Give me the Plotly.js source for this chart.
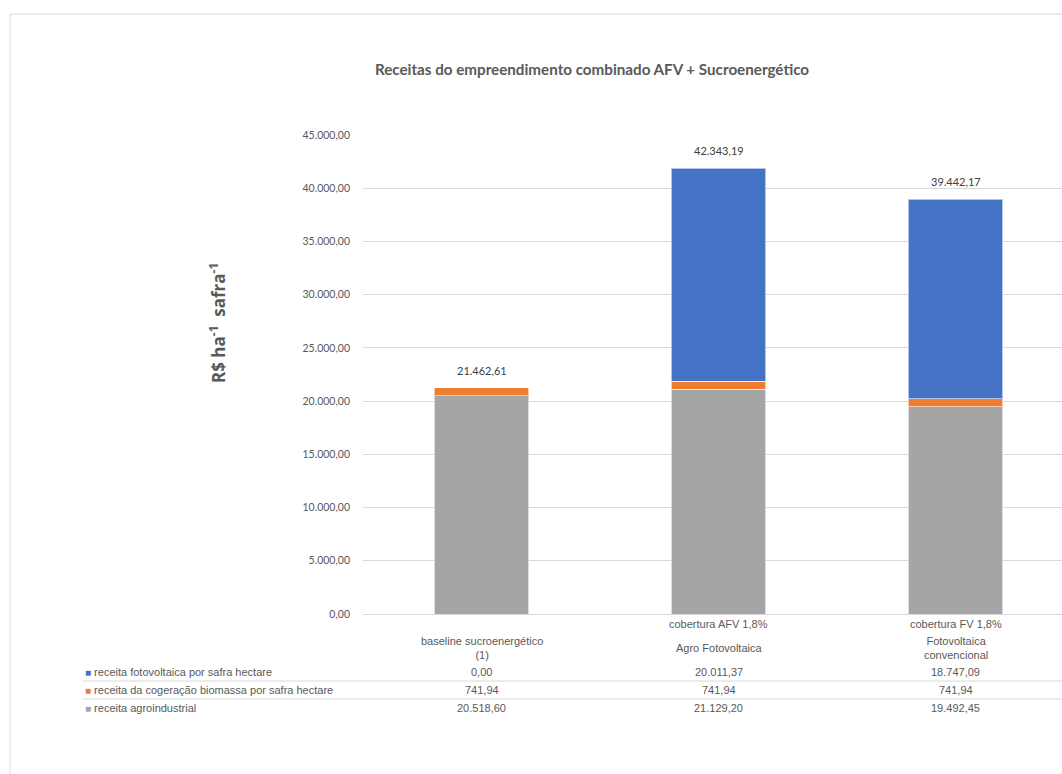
<!DOCTYPE html>
<html>
<head>
<meta charset="utf-8">
<script src="https://cdn.plot.ly/plotly-3.0.1.min.js"></script>
<style>
html,body{margin:0;padding:0;background:#fff;overflow:hidden;}
#chart{width:1080px;height:774px;}
</style>
</head>
<body>
<div id="chart"></div>
<script>
// ---- data ----
const categoryKeys = ['baseline', 'afv', 'fv'];
const categoryTop = ['', 'cobertura AFV 1,8%', 'cobertura FV 1,8%'];
const categoryBottom = ['baseline sucroenergético<br>(1)', 'Agro Fotovoltaica', 'Fotovoltaica<br>convencional'];
const seriesNames = ['receita fotovoltaica por safra hectare', 'receita da cogeração biomassa por safra hectare', 'receita agroindustrial'];
const receitaFotovoltaica = [0.00, 20011.37, 18747.09];
const receitaCogeracao = [741.94, 741.94, 741.94];
const receitaAgroindustrial = [20518.60, 21129.20, 19492.45];
const totalLabels = ['21.462,61', '42.343,19', '39.442,17'];
const yTicks = [0, 5000, 10000, 15000, 20000, 25000, 30000, 35000, 40000, 45000];

const colors = {fv: '#4472C4', cog: '#ED7D31', agro: '#A5A5A5'};
const gray = '#595959';
const tableFont = {family: 'Liberation Sans, Arial, sans-serif', size: 11, color: gray};

function fmt(v) {
  const s = v.toFixed(2).split('.');
  return s[0].replace(/\B(?=(\d{3})+(?!\d))/g, '.') + ',' + s[1];
}

const barLine = {color: 'rgba(255,255,255,0.6)', width: 1};
const traces = [
  {type: 'bar', name: seriesNames[2], x: categoryKeys, y: receitaAgroindustrial, marker: {color: colors.agro, line: barLine}, hoverinfo: 'y'},
  {type: 'bar', name: seriesNames[1], x: categoryKeys, y: receitaCogeracao, marker: {color: colors.cog, line: barLine}, hoverinfo: 'y'},
  {type: 'bar', name: seriesNames[0], x: categoryKeys, y: receitaFotovoltaica, marker: {color: colors.fv, line: barLine}, hoverinfo: 'y'}
];

// pixel->paper helpers (plot area: x 363..1074, y 135..614)
const PX = px => (px - 363) / 711;
const PY = py => (614 - py) / 479;

const annotations = [];
const shapes = [];

// y axis title
annotations.push({xref: 'paper', yref: 'paper', x: PX(217), y: PY(323), xanchor: 'center', yanchor: 'middle',
  textangle: -90, showarrow: false,
  text: '<b>R$ ha<sup>-1</sup>  safra<sup>-1</sup></b>',
  font: {family: 'Open Sans, Liberation Sans, sans-serif', size: 17, color: gray}});

// total labels on top of stacks
categoryKeys.forEach((c, i) => {
  const total = receitaAgroindustrial[i] + receitaCogeracao[i] + receitaFotovoltaica[i];
  annotations.push({x: c, y: total, xref: 'x', yref: 'y', yanchor: 'bottom', yshift: 9, showarrow: false,
    text: totalLabels[i], font: {family: 'Lato, Liberation Sans, sans-serif', size: 11, color: '#404040'}});
});

// data table: category headers
categoryKeys.forEach((c, i) => {
  if (categoryTop[i]) {
    annotations.push({x: c, y: PY(624), xref: 'x', yref: 'paper', yanchor: 'middle', showarrow: false,
      text: categoryTop[i], font: tableFont});
  }
  annotations.push({x: c, y: PY(648), xref: 'x', yref: 'paper', yanchor: 'middle', showarrow: false,
    text: categoryBottom[i], font: tableFont});
});

// data table rows
const rows = [
  {name: seriesNames[0], vals: receitaFotovoltaica, color: colors.fv, py: 672},
  {name: seriesNames[1], vals: receitaCogeracao, color: colors.cog, py: 690},
  {name: seriesNames[2], vals: receitaAgroindustrial, color: colors.agro, py: 708}
];
rows.forEach(r => {
  annotations.push({xref: 'paper', yref: 'paper', x: PX(83), y: PY(r.py), xanchor: 'left', yanchor: 'middle', showarrow: false,
    text: '<span style="color:' + r.color + ';font-size:10px">■</span> ' + r.name, font: tableFont});
  categoryKeys.forEach((c, i) => {
    annotations.push({x: c, y: PY(r.py), xref: 'x', yref: 'paper', yanchor: 'middle', showarrow: false,
      text: fmt(r.vals[i]), font: tableFont});
  });
});

// table separator lines
[681, 699].forEach(py => {
  shapes.push({type: 'line', xref: 'paper', yref: 'paper', x0: PX(83), x1: 1.05, y0: PY(py), y1: PY(py),
    line: {color: '#d9d9d9', width: 1}});
});
// outer chart border
shapes.push({type: 'rect', xref: 'paper', yref: 'paper', x0: PX(10), x1: 1.2, y0: -0.5, y1: PY(14),
  line: {color: '#d9d9d9', width: 1}, layer: 'below'});

const layout = {
  width: 1080, height: 774,
  margin: {l: 363, r: 6, t: 135, b: 160},
  paper_bgcolor: '#fff', plot_bgcolor: '#fff',
  barmode: 'stack', bargap: 0.6,
  separators: ',.',
  showlegend: false,
  title: {text: '<b>Receitas do empreendimento combinado AFV + Sucroenergético</b>',
    xref: 'paper', x: PX(592), xanchor: 'center', yref: 'container', y: 1 - 70 / 774, yanchor: 'middle',
    font: {family: 'Lato, Open Sans, sans-serif', size: 15.2, color: gray}},
  xaxis: {type: 'category', showticklabels: false, showgrid: false, zeroline: false, showline: false,
    range: [-0.5, 2.5], fixedrange: true},
  yaxis: {range: [0, 45000], tickvals: yTicks, tickformat: ',.2f', showgrid: true, gridcolor: '#d9d9d9', gridwidth: 1,
    zeroline: true, zerolinecolor: '#d9d9d9', zerolinewidth: 1, showline: false, ticks: '', ticklabelstandoff: 12,
    tickfont: {family: 'Lato, Liberation Sans, sans-serif', size: 10.5, color: gray}, fixedrange: true},
  annotations: annotations,
  shapes: shapes
};

Plotly.newPlot('chart', traces, layout, {staticPlot: true, displayModeBar: false});
</script>
</body>
</html>
